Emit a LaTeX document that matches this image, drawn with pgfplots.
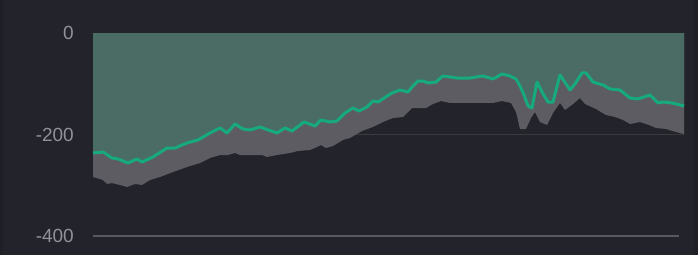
\documentclass[border=0pt]{standalone}
\usepackage{fontspec}
\setmainfont{Liberation Sans}
\usepackage{pgfplots}
\pgfplotsset{compat=1.18}
\definecolor{bg}{RGB}{35,36,43}
\definecolor{bgedge}{RGB}{31,32,38}
\definecolor{gfill}{RGB}{74,108,100}
\definecolor{gline}{RGB}{22,170,126}
\definecolor{grayfill}{RGB}{93,92,98}
\definecolor{grid2}{RGB}{58,58,60}
\definecolor{grid4}{RGB}{88,88,96}
\definecolor{lab}{RGB}{145,145,152}
\begin{document}
\begin{tikzpicture}
\path[use as bounding box] (0,0) rectangle (698pt,255pt);
\fill[bg] (0,0) rectangle (698pt,255pt);
\fill[bgedge] (0,0) rectangle (3pt,255pt);
\fill[bgedge] (694pt,0) rectangle (698pt,255pt);
\begin{axis}[
  at={(93pt,19pt)}, anchor=south west,
  scale only axis, width=591pt, height=203pt,
  xmin=93, xmax=684, ymin=-400, ymax=0,
  axis line style={draw=none}, clip=false,
  xtick=\empty,
  ytick={-400,-200,0},
  yticklabels={{-400},{-200},{0}},
  major tick length=0pt,
  tick style={draw=none},
  yticklabel style={font=\fontsize{19}{19}\selectfont, text=lab, anchor=east, inner sep=0pt, xshift=-19pt},
]
\addplot[draw=grid2, line width=1pt] coordinates {(93,-200) (684,-200)};
\addplot[draw=grid4, line width=1.6pt] coordinates {(93,-400) (679,-400)};
% lower boundary of gray area
\addplot[fill=grayfill, draw=none] coordinates {
(93,-283.7) (103,-289.7) (107,-297.5) (112,-295.6) (120,-299.5) (127,-303.4) (135,-297.5) (142,-299.5)
(150,-289.7) (160,-283.7) (173,-273.9) (187,-264.0) (200,-256.2) (210,-246.3) (220,-240.4) (228,-240.4)
(235,-236.4) (240,-240.4) (262,-240.4) (267,-244.3) (277,-240.4) (290,-236.4) (298,-232.5) (310,-230.5)
(317,-224.6) (321,-220.7) (326,-226.6) (333,-222.7) (343,-210.8) (350,-206.9) (362,-193.1) (373,-185.2)
(383,-175.4) (393,-167.5) (403,-165.5) (412,-147.8) (426,-147.8) (433,-139.9) (441,-134.0) (450,-137.9)
(465,-137.9) (480,-137.9) (493,-137.9) (502,-134.0) (511,-137.9) (516,-155.7) (520,-189.2) (526,-189.2)
(531,-167.5) (535,-155.7) (540,-175.4) (547,-181.3) (553,-157.6) (560,-137.9) (565,-151.7) (573,-139.9)
(580,-128.1) (585,-139.9) (596,-149.8) (606,-161.6) (615,-165.5) (623,-171.4) (630,-179.3) (640,-175.4)
(649,-181.3) (656,-187.2) (666,-189.2) (676,-195.1) (684,-199.0)
} \closedcycle;
% green area
\addplot[fill=gfill, draw=none] coordinates {
(93,-236.4) (103,-234.5) (112,-246.3) (118,-248.3) (128,-256.2) (137,-248.3) (142,-254.2) (153,-244.3)
(167,-226.6) (175,-226.6) (187,-216.7) (198,-210.8) (210,-197.0) (220,-187.2) (227,-197.0) (235,-179.3)
(243,-189.2) (250,-191.1) (260,-185.2) (268,-191.1) (277,-197.0) (285,-187.2) (292,-193.1) (304,-175.4)
(315,-183.2) (321,-171.4) (330,-175.4) (337,-173.4) (345,-157.6) (353,-147.8) (359,-153.7) (367,-145.8)
(373,-134.0) (378,-136.0) (392,-118.2) (400,-112.3) (408,-116.3) (413,-104.4) (418,-94.6) (423,-94.6)
(428,-98.5) (436,-96.6) (443,-84.7) (457,-88.7) (470,-88.7) (483,-84.7) (493,-90.6) (502,-80.8)
(510,-84.7) (516,-90.6) (520,-104.4) (524,-122.2) (528,-143.8) (532,-147.8) (537,-96.6) (542,-116.3)
(548,-136.0) (553,-136.0) (560,-82.8) (570,-112.3) (575,-100.5) (582,-78.8) (586,-78.8) (593,-96.6)
(603,-102.5) (610,-110.3) (620,-112.3) (630,-128.1) (638,-130.0) (650,-122.2) (658,-137.9) (663,-136.0)
(672,-137.9) (684,-143.8)
} \closedcycle;
\addplot[draw=gline, line width=3pt, line join=round] coordinates {
(93,-236.4) (103,-234.5) (112,-246.3) (118,-248.3) (128,-256.2) (137,-248.3) (142,-254.2) (153,-244.3)
(167,-226.6) (175,-226.6) (187,-216.7) (198,-210.8) (210,-197.0) (220,-187.2) (227,-197.0) (235,-179.3)
(243,-189.2) (250,-191.1) (260,-185.2) (268,-191.1) (277,-197.0) (285,-187.2) (292,-193.1) (304,-175.4)
(315,-183.2) (321,-171.4) (330,-175.4) (337,-173.4) (345,-157.6) (353,-147.8) (359,-153.7) (367,-145.8)
(373,-134.0) (378,-136.0) (392,-118.2) (400,-112.3) (408,-116.3) (413,-104.4) (418,-94.6) (423,-94.6)
(428,-98.5) (436,-96.6) (443,-84.7) (457,-88.7) (470,-88.7) (483,-84.7) (493,-90.6) (502,-80.8)
(510,-84.7) (516,-90.6) (520,-104.4) (524,-122.2) (528,-143.8) (532,-147.8) (537,-96.6) (542,-116.3)
(548,-136.0) (553,-136.0) (560,-82.8) (570,-112.3) (575,-100.5) (582,-78.8) (586,-78.8) (593,-96.6)
(603,-102.5) (610,-110.3) (620,-112.3) (630,-128.1) (638,-130.0) (650,-122.2) (658,-137.9) (663,-136.0)
(672,-137.9) (684,-143.8)
};
\end{axis}
\end{tikzpicture}
\end{document}
